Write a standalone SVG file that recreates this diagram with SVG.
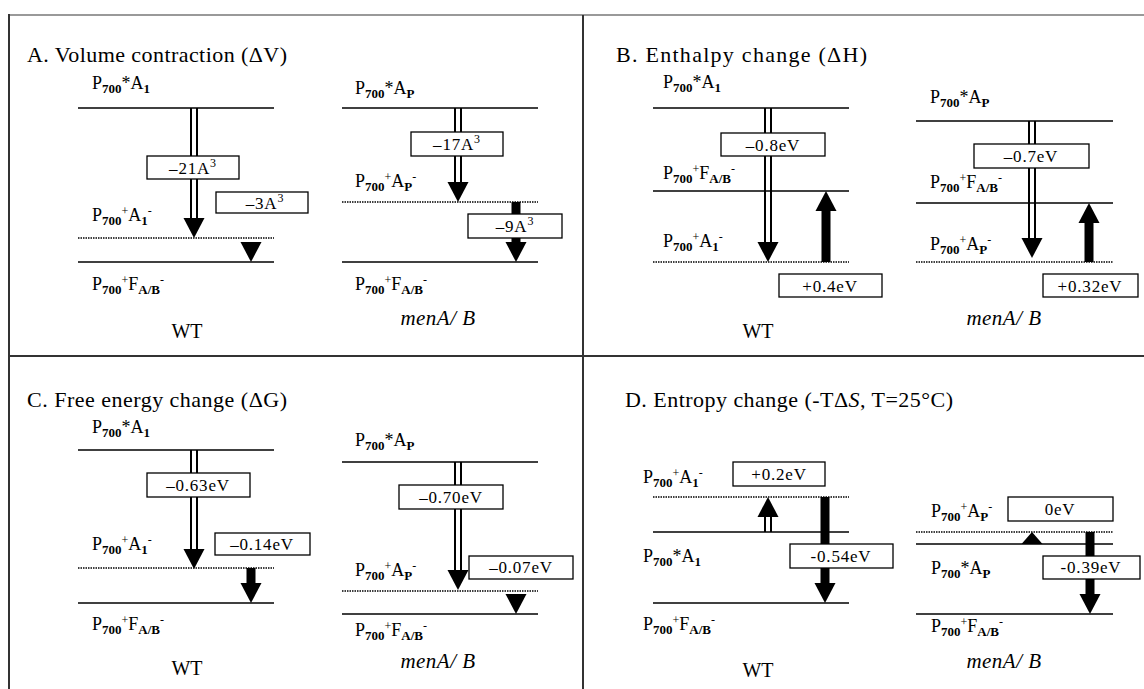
<svg xmlns="http://www.w3.org/2000/svg" xmlns:xlink="http://www.w3.org/1999/xlink" width="1144" height="689" viewBox="0 0 1144 689">
<style>
text{font-family:"Liberation Serif","Times New Roman",serif;fill:#000}
.t{font-size:22px}
.l{font-size:18px}
.s{font-size:13px;font-weight:bold}
.p{font-size:12px}
.v{font-size:17px;text-anchor:middle;letter-spacing:0.8px}
.e{font-size:12px}
.c{font-size:20px;text-anchor:middle}
.i{font-style:italic;font-size:21px;letter-spacing:0.5px}
.lv{stroke:#000;stroke-width:1.6}
.dt{stroke:#000;stroke-width:1.3;stroke-dasharray:1.5 1}
.sh{stroke:#000;stroke-width:2}
.bx{fill:#fff;stroke:#000;stroke-width:1.3}
.fr{stroke:#333;stroke-width:2}
</style>
<defs>
<path id="hd" d="M-10.5,-20 L10.5,-20 L0,0Z" fill="#000"/>
<path id="hu" d="M-10.5,20 L10.5,20 L0,0Z" fill="#000"/>
</defs>

<g id="frame">
<line x1="9" y1="15" x2="1144" y2="15" stroke="#999" stroke-width="2"/>
<line class="fr" x1="9" y1="14" x2="9" y2="689"/>
<line class="fr" x1="583" y1="15" x2="583" y2="689"/>
<line class="fr" x1="9" y1="356" x2="1144" y2="356"/>
</g>

<g id="titles">
<text class="t" x="27" y="62" textLength="260" lengthAdjust="spacing">A. Volume contraction (ΔV)</text>
<text class="t" x="616" y="62" textLength="251" lengthAdjust="spacing">B. Enthalpy change (ΔH)</text>
<text class="t" x="27" y="407" textLength="260" lengthAdjust="spacing">C. Free energy change (ΔG)</text>
<text class="t" x="625" y="407" textLength="328" lengthAdjust="spacing">D. Entropy change (-TΔ<tspan font-style="italic">S</tspan>, T=25°C)</text>
</g>

<!-- ================= Panel A ================= -->
<g id="A-WT-top"><line class="lv" x1="78" y1="108" x2="274" y2="108"/>
<text class="l" x="92" y="89">P<tspan class="s" dy="4">700</tspan><tspan dy="-4">*</tspan>A<tspan class="s" dy="4">1</tspan></text></g>
<g id="A-WT-mid"><line class="dt" x1="78" y1="238" x2="274" y2="238"/>
<text class="l" x="92" y="221">P<tspan class="s" dy="4">700</tspan><tspan class="p" dy="-10">+</tspan><tspan dy="6">A</tspan><tspan class="s" dy="4">1</tspan><tspan class="p" dy="-10">-</tspan></text></g>
<g id="A-WT-bot"><line class="lv" x1="78" y1="262" x2="274" y2="262"/>
<text class="l" x="92" y="290">P<tspan class="s" dy="4">700</tspan><tspan class="p" dy="-10">+</tspan><tspan dy="6">F</tspan><tspan class="s" dy="4">A/B</tspan><tspan class="p" dy="-10">-</tspan></text></g>
<text class="c" x="187" y="338">WT</text>

<g id="A-M-top"><line class="lv" x1="342" y1="108" x2="538" y2="108"/>
<text class="l" x="355" y="94">P<tspan class="s" dy="4">700</tspan><tspan dy="-4">*</tspan>A<tspan class="s" dy="4">P</tspan></text></g>
<g id="A-M-mid"><line class="dt" x1="342" y1="202" x2="538" y2="202"/>
<text class="l" x="355" y="187">P<tspan class="s" dy="4">700</tspan><tspan class="p" dy="-10">+</tspan><tspan dy="6">A</tspan><tspan class="s" dy="4">P</tspan><tspan class="p" dy="-10">-</tspan></text></g>
<g id="A-M-bot"><line class="lv" x1="342" y1="262" x2="538" y2="262"/>
<text class="l" x="355" y="290">P<tspan class="s" dy="4">700</tspan><tspan class="p" dy="-10">+</tspan><tspan dy="6">F</tspan><tspan class="s" dy="4">A/B</tspan><tspan class="p" dy="-10">-</tspan></text></g>
<text class="c i" x="438" y="325">menA/ B</text>

<!-- ================= Panel B ================= -->
<g id="B-WT-top"><line class="lv" x1="653" y1="108" x2="849" y2="108"/>
<text class="l" x="663" y="88">P<tspan class="s" dy="4">700</tspan><tspan dy="-4">*</tspan>A<tspan class="s" dy="4">1</tspan></text></g>
<g id="B-WT-mid"><line class="lv" x1="653" y1="191" x2="849" y2="191" stroke-width="1.3"/>
<text class="l" x="663" y="179">P<tspan class="s" dy="4">700</tspan><tspan class="p" dy="-10">+</tspan><tspan dy="6">F</tspan><tspan class="s" dy="4">A/B</tspan><tspan class="p" dy="-10">-</tspan></text></g>
<g id="B-WT-bot"><line class="dt" x1="653" y1="262" x2="849" y2="262"/>
<text class="l" x="663" y="247">P<tspan class="s" dy="4">700</tspan><tspan class="p" dy="-10">+</tspan><tspan dy="6">A</tspan><tspan class="s" dy="4">1</tspan><tspan class="p" dy="-10">-</tspan></text></g>
<text class="c" x="758" y="338">WT</text>

<g id="B-M-top"><line class="lv" x1="916" y1="121" x2="1113" y2="121" stroke-width="1.3"/>
<text class="l" x="930" y="103">P<tspan class="s" dy="4">700</tspan><tspan dy="-4">*</tspan>A<tspan class="s" dy="4">P</tspan></text></g>
<g id="B-M-mid"><line class="lv" x1="916" y1="203" x2="1113" y2="203" stroke-width="1.3"/>
<text class="l" x="930" y="188">P<tspan class="s" dy="4">700</tspan><tspan class="p" dy="-10">+</tspan><tspan dy="6">F</tspan><tspan class="s" dy="4">A/B</tspan><tspan class="p" dy="-10">-</tspan></text></g>
<g id="B-M-bot"><line class="dt" x1="916" y1="262" x2="1113" y2="262"/>
<text class="l" x="930" y="250">P<tspan class="s" dy="4">700</tspan><tspan class="p" dy="-10">+</tspan><tspan dy="6">A</tspan><tspan class="s" dy="4">P</tspan><tspan class="p" dy="-10">-</tspan></text></g>
<text class="c i" x="1004" y="325">menA/ B</text>

<!-- ================= Panel C ================= -->
<g id="C-WT-top"><line class="lv" x1="78" y1="450" x2="274" y2="450"/>
<text class="l" x="92" y="433">P<tspan class="s" dy="4">700</tspan><tspan dy="-4">*</tspan>A<tspan class="s" dy="4">1</tspan></text></g>
<g id="C-WT-mid"><line class="dt" x1="78" y1="568" x2="274" y2="568"/>
<text class="l" x="92" y="550">P<tspan class="s" dy="4">700</tspan><tspan class="p" dy="-10">+</tspan><tspan dy="6">A</tspan><tspan class="s" dy="4">1</tspan><tspan class="p" dy="-10">-</tspan></text></g>
<g id="C-WT-bot"><line class="lv" x1="78" y1="603" x2="274" y2="603"/>
<text class="l" x="92" y="630">P<tspan class="s" dy="4">700</tspan><tspan class="p" dy="-10">+</tspan><tspan dy="6">F</tspan><tspan class="s" dy="4">A/B</tspan><tspan class="p" dy="-10">-</tspan></text></g>
<text class="c" x="187" y="675">WT</text>

<g id="C-M-top"><line class="lv" x1="342" y1="462" x2="538" y2="462"/>
<text class="l" x="355" y="446">P<tspan class="s" dy="4">700</tspan><tspan dy="-4">*</tspan>A<tspan class="s" dy="4">P</tspan></text></g>
<g id="C-M-mid"><line class="dt" x1="342" y1="591" x2="538" y2="591"/>
<text class="l" x="355" y="576">P<tspan class="s" dy="4">700</tspan><tspan class="p" dy="-10">+</tspan><tspan dy="6">A</tspan><tspan class="s" dy="4">P</tspan><tspan class="p" dy="-10">-</tspan></text></g>
<g id="C-M-bot"><line class="lv" x1="342" y1="614" x2="538" y2="614"/>
<text class="l" x="355" y="636">P<tspan class="s" dy="4">700</tspan><tspan class="p" dy="-10">+</tspan><tspan dy="6">F</tspan><tspan class="s" dy="4">A/B</tspan><tspan class="p" dy="-10">-</tspan></text></g>
<text class="c i" x="438" y="668">menA/ B</text>

<!-- ================= Panel D ================= -->
<g id="D-WT-top"><line class="dt" x1="653" y1="497" x2="849" y2="497"/>
<text class="l" x="643" y="483">P<tspan class="s" dy="4">700</tspan><tspan class="p" dy="-10">+</tspan><tspan dy="6">A</tspan><tspan class="s" dy="4">1</tspan><tspan class="p" dy="-10">-</tspan></text></g>
<g id="D-WT-mid"><line class="lv" x1="653" y1="532" x2="849" y2="532"/>
<text class="l" x="643" y="562">P<tspan class="s" dy="4">700</tspan><tspan dy="-4">*</tspan>A<tspan class="s" dy="4">1</tspan></text></g>
<g id="D-WT-bot"><line class="lv" x1="653" y1="603" x2="849" y2="603"/>
<text class="l" x="643" y="630">P<tspan class="s" dy="4">700</tspan><tspan class="p" dy="-10">+</tspan><tspan dy="6">F</tspan><tspan class="s" dy="4">A/B</tspan><tspan class="p" dy="-10">-</tspan></text></g>
<text class="c" x="758" y="677">WT</text>

<g id="D-M-top"><line class="dt" x1="916" y1="532" x2="1113" y2="532"/>
<text class="l" x="931" y="517">P<tspan class="s" dy="4">700</tspan><tspan class="p" dy="-10">+</tspan><tspan dy="6">A</tspan><tspan class="s" dy="4">P</tspan><tspan class="p" dy="-10">-</tspan></text></g>
<g id="D-M-mid"><line class="lv" x1="916" y1="544" x2="1113" y2="544"/>
<text class="l" x="931" y="574">P<tspan class="s" dy="4">700</tspan><tspan dy="-4">*</tspan>A<tspan class="s" dy="4">P</tspan></text></g>
<g id="D-M-bot"><line class="lv" x1="916" y1="614" x2="1113" y2="614"/>
<text class="l" x="931" y="632">P<tspan class="s" dy="4">700</tspan><tspan class="p" dy="-10">+</tspan><tspan dy="6">F</tspan><tspan class="s" dy="4">A/B</tspan><tspan class="p" dy="-10">-</tspan></text></g>
<text class="c i" x="1004" y="668">menA/ B</text>

<!-- ================= Connectors ================= -->
<g id="connectors">
<line class="sh" x1="191" y1="108" x2="191" y2="218"/><line class="sh" x1="197" y1="108" x2="197" y2="218"/>
<use xlink:href="#hd" x="194" y="238"/>
<use xlink:href="#hd" x="251" y="262"/>
<line class="sh" x1="455" y1="108" x2="455" y2="183"/><line class="sh" x1="461" y1="108" x2="461" y2="183"/>
<use xlink:href="#hd" x="458" y="202"/>
<rect x="511.5" y="202" width="9" height="41" fill="#000"/>
<use xlink:href="#hd" x="516" y="262"/>
<line class="sh" x1="765" y1="108" x2="765" y2="242"/><line class="sh" x1="771" y1="108" x2="771" y2="242"/>
<use xlink:href="#hd" x="768" y="262"/>
<rect x="821.5" y="210" width="9" height="52" fill="#000"/>
<use xlink:href="#hu" x="826" y="191"/>
<line class="sh" x1="1029" y1="121" x2="1029" y2="239"/><line class="sh" x1="1035" y1="121" x2="1035" y2="239"/>
<use xlink:href="#hd" x="1032" y="258"/>
<rect x="1084.5" y="222" width="9" height="40" fill="#000"/>
<use xlink:href="#hu" x="1089" y="203"/>
<line class="sh" x1="191" y1="450" x2="191" y2="551"/><line class="sh" x1="197" y1="450" x2="197" y2="551"/>
<use xlink:href="#hd" x="194" y="569"/>
<rect x="246.5" y="568" width="9" height="18" fill="#000"/>
<use xlink:href="#hd" x="251" y="603"/>
<line class="sh" x1="455" y1="462" x2="455" y2="571"/><line class="sh" x1="461" y1="462" x2="461" y2="571"/>
<use xlink:href="#hd" x="458" y="590"/>
<use xlink:href="#hd" x="516" y="614"/>
<line class="sh" x1="765" y1="516" x2="765" y2="532"/><line class="sh" x1="771" y1="516" x2="771" y2="532"/>
<use xlink:href="#hu" x="768" y="497"/>
<rect x="820.5" y="497" width="9" height="87" fill="#000"/>
<use xlink:href="#hd" x="825" y="603"/>
<path d="M1021.5,544 L1042.5,544 L1032,532Z" fill="#000"/>
<rect x="1085.5" y="532" width="9" height="64" fill="#000"/>
<use xlink:href="#hd" x="1090" y="614"/>
</g>

<!-- ================= Value boxes ================= -->
<g id="box-A1"><rect class="bx" x="147" y="156" width="92" height="23"/><text class="v" x="193" y="174">–21A<tspan class="e" dy="-7">3</tspan></text></g>
<g id="box-A2"><rect class="bx" x="216" y="192" width="92" height="21"/><text class="v" x="265" y="209">–3A<tspan class="e" dy="-7">3</tspan></text></g>
<g id="box-A3"><rect class="bx" x="411" y="132" width="92" height="24"/><text class="v" x="457" y="150">–17A<tspan class="e" dy="-7">3</tspan></text></g>
<g id="box-A4"><rect class="bx" x="468" y="214" width="94" height="24"/><text class="v" x="515" y="232">–9A<tspan class="e" dy="-7">3</tspan></text></g>

<g id="box-B1"><rect class="bx" x="721" y="133" width="104" height="23"/><text class="v" x="773" y="151">–0.8eV</text></g>
<g id="box-B2"><rect class="bx" x="779" y="274" width="103" height="23"/><text class="v" x="830" y="292">+0.4eV</text></g>
<g id="box-B3"><rect class="bx" x="974" y="144" width="115" height="24"/><text class="v" x="1031" y="162">–0.7eV</text></g>
<g id="box-B4"><rect class="bx" x="1043" y="274" width="95" height="23"/><text class="v" x="1090" y="292">+0.32eV</text></g>

<g id="box-C1"><rect class="bx" x="147" y="473" width="103" height="24"/><text class="v" x="198" y="491">–0.63eV</text></g>
<g id="box-C2"><rect class="bx" x="215" y="533" width="95" height="22"/><text class="v" x="262" y="550">–0.14eV</text></g>
<g id="box-C3"><rect class="bx" x="399" y="485" width="104" height="24"/><text class="v" x="451" y="503">–0.70eV</text></g>
<g id="box-C4"><rect class="bx" x="469" y="556" width="104" height="23"/><text class="v" x="521" y="573">–0.07eV</text></g>

<g id="box-D1"><rect class="bx" x="733" y="462" width="92" height="24"/><text class="v" x="779" y="480">+0.2eV</text></g>
<g id="box-D2"><rect class="bx" x="790" y="544" width="103" height="24"/><text class="v" x="841" y="562">-0.54eV</text></g>
<g id="box-D3"><rect class="bx" x="1008" y="497" width="105" height="24"/><text class="v" x="1060" y="515">0eV</text></g>
<g id="box-D4"><rect class="bx" x="1043" y="556" width="97" height="23"/><text class="v" x="1091" y="573">-0.39eV</text></g>
</svg>
